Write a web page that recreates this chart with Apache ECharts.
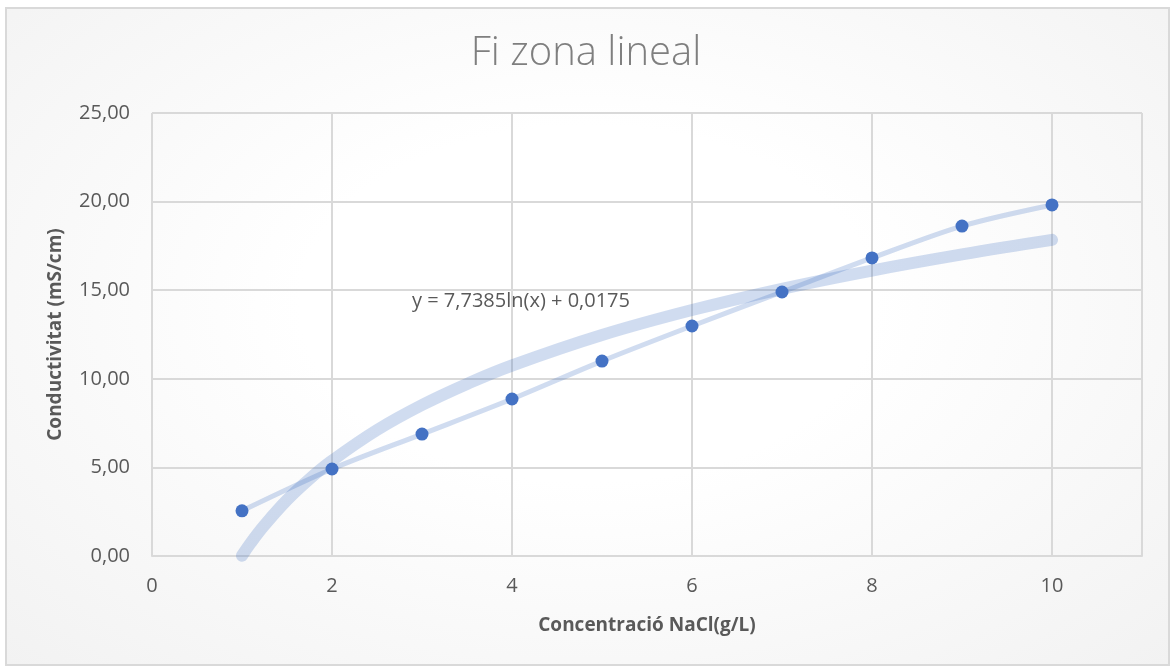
<!DOCTYPE html>
<html>
<head>
<meta charset="utf-8">
<script src="https://cdn.jsdelivr.net/npm/echarts@6/dist/echarts.min.js"></script>
<style>
  html, body { margin: 0; padding: 0; background: #ffffff; }
  #wrap {
    position: absolute; left: 5px; top: 7px; width: 1161px; height: 655px;
    border: 2px solid #d9d9d9;
    background: radial-gradient(ellipse at 50% 45%, #ffffff 35%, #f2f2f2 100%);
  }
  #chart { position: absolute; left: -7px; top: -9px; width: 1172px; height: 666px; }
</style>
</head>
<body>
<div id="wrap"><div id="chart"></div></div>
<script>
// mesures
const concentracio = [1, 2, 3, 4, 5, 6, 7, 8, 9, 10];
const conductivitat = [2.55, 4.91, 6.88, 8.86, 11.0, 12.98, 14.9, 16.82, 18.62, 19.81];

// línia de tendència llegida del gràfic
const tendX = [1, 1.1, 1.25, 1.5, 1.75, 2, 2.5, 3, 3.5, 4, 5, 6, 7, 8, 9, 10];
const tendY = [0.02, 0.76, 1.74, 3.16, 4.35, 5.38, 7.11, 8.52, 9.71, 10.75, 12.47, 13.88, 15.08, 16.11, 17.02, 17.84];

const titol = 'Fi zona lineal';
const equacio = 'y = 7,7385ln(x) + 0,0175';
const nomX = 'Concentració NaCl(g/L)';
const nomY = 'Conductivitat (mS/cm)';

const gris = '#595959';
const font = 'Open Sans';

const chart = echarts.init(document.getElementById('chart'));

chart.setOption({
  backgroundColor: 'transparent',
  animation: false,
  title: {
    text: titol,
    left: 'center',
    top: 29,
    textStyle: { fontFamily: font, fontWeight: 300, fontSize: 40, color: '#7f7f7f' }
  },
  grid: { left: 152, top: 113, width: 990, height: 443 },
  xAxis: {
    type: 'value',
    min: 0, max: 11, interval: 2,
    name: nomX,
    nameLocation: 'middle',
    nameGap: 60,
    nameTextStyle: { fontFamily: font, fontWeight: 'bold', fontSize: 19, color: gris },
    axisLine: { show: true, lineStyle: { color: '#d9d9d9', width: 2 } },
    axisTick: { show: false },
    axisLabel: {
      fontFamily: font, fontSize: 20, color: gris, margin: 20,
      formatter: v => (v > 10 ? '' : String(v))
    },
    splitLine: { show: true, lineStyle: { color: '#d9d9d9', width: 2 } }
  },
  yAxis: {
    type: 'value',
    min: 0, max: 25, interval: 5,
    name: nomY,
    nameLocation: 'middle',
    nameGap: 87,
    nameTextStyle: { fontFamily: font, fontWeight: 'bold', fontSize: 19, color: gris },
    axisLine: { show: false },
    axisTick: { show: false },
    axisLabel: {
      fontFamily: font, fontSize: 20, color: gris, margin: 22,
      formatter: v => v.toFixed(2).replace('.', ',')
    },
    splitLine: { show: true, lineStyle: { color: '#d9d9d9', width: 2 } }
  },
  series: [
    {
      name: 'tendencia',
      type: 'line',
      data: tendX.map((x, i) => [x, tendY[i]]),
      smooth: 0.4,
      showSymbol: false,
      lineStyle: { color: 'rgba(68,114,196,0.25)', width: 12, cap: 'round' },
      z: 1,
      markPoint: {
        symbol: 'circle',
        symbolSize: 0,
        data: [{ coord: [4.1, 14.4] }],
        label: {
          show: true,
          formatter: equacio,
          fontFamily: font,
          fontSize: 20,
          color: gris
        }
      }
    },
    {
      name: 'conductivitat',
      type: 'line',
      data: concentracio.map((x, i) => [x, conductivitat[i]]),
      smooth: 0.3,
      symbol: 'circle',
      symbolSize: 13,
      itemStyle: { color: '#4472c4' },
      lineStyle: { color: 'rgba(68,114,196,0.25)', width: 5, cap: 'round' },
      z: 2
    }
  ]
});
</script>
</body>
</html>
